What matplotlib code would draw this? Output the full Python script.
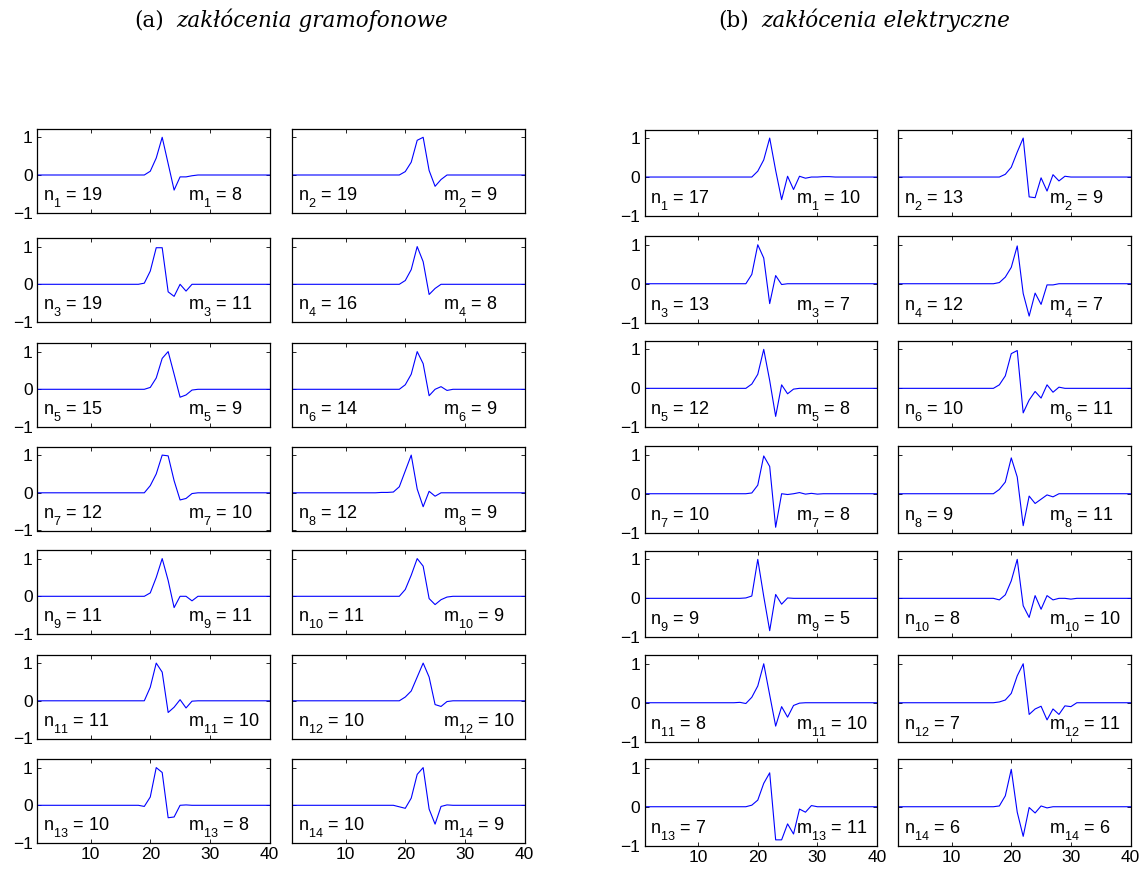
import numpy as np
import matplotlib
matplotlib.use("Agg")
import matplotlib.pyplot as plt
import matplotlib._mathtext as mt

plt.rcParams['font.family'] = ['Liberation Sans', 'DejaVu Sans']
plt.rcParams['mathtext.fontset'] = 'custom'
plt.rcParams['mathtext.rm'] = 'Liberation Sans'
plt.rcParams['mathtext.it'] = 'Liberation Sans:italic'
# MATLAB puts subscripts lower than mathtext does
mt.FontConstantsBase.sub1 = 0.75
mt.FontConstantsBase.sub2 = 0.9

# sample axis
x = np.arange(1, 41)

# (a) gramophone clicks: pulse start index and pulse values (rest of signal is 0)
gram_start = [19, 19, 18, 19, 19, 19, 19, 16, 19, 19, 19, 19, 18, 18]
gram_pulse = [
    [0, 0.1, 0.45, 1.0, 0.3, -0.4, -0.05, -0.05, -0.02, 0],
    [0, 0.09, 0.34, 0.92, 1.0, 0.12, -0.3, -0.12, 0],
    [0, 0.03, 0.35, 0.97, 0.97, -0.2, -0.32, 0, -0.18, 0],
    [0, 0.1, 0.39, 1.0, 0.6, -0.27, -0.11, 0],
    [0, 0.05, 0.3, 0.82, 1.0, 0.4, -0.21, -0.15, -0.02, 0],
    [0, 0.12, 0.4, 1.0, 0.68, -0.17, 0.0, 0.07, -0.03, 0],
    [0, 0.19, 0.5, 1.0, 0.98, 0.32, -0.19, -0.15, -0.02, 0],
    [0.01, 0.01, 0.02, 0.16, 0.58, 1.0, 0.1, -0.37, 0.04, -0.09, 0],
    [0, 0.09, 0.5, 1.0, 0.42, -0.3, 0, 0, -0.12, 0],
    [0, 0.18, 0.56, 1.0, 0.8, -0.06, -0.22, -0.09, -0.02, 0],
    [0, 0.36, 1.0, 0.76, -0.31, -0.17, 0.03, -0.19, -0.01, 0],
    [0, 0.1, 0.26, 0.63, 1.0, 0.63, -0.1, -0.15, -0.02, 0],
    [0, -0.03, 0.22, 1.0, 0.87, -0.33, -0.31, 0, 0.01, 0],
    [0, -0.04, -0.08, 0.19, 0.82, 1.0, -0.1, -0.5, -0.03, 0.01, 0],
]
gram_n = [19, 19, 19, 16, 15, 14, 12, 12, 11, 11, 11, 10, 10, 10]
gram_m = [8, 9, 11, 8, 9, 9, 10, 9, 11, 9, 10, 10, 8, 9]

# (b) electrical clicks
elek_start = [19, 18, 18, 17, 18, 17, 18, 17, 17, 17, 17, 17, 18, 17]
elek_pulse = [
    [0, 0.15, 0.44, 1.0, 0.17, -0.58, 0.02, -0.32, 0.02, -0.03, 0, 0, 0.01, 0.01, 0],
    [0, 0.07, 0.25, 0.64, 1.0, -0.51, -0.53, -0.02, -0.36, 0.06, -0.1, 0.02, 0],
    [0, 0.24, 1.0, 0.66, -0.51, 0.21, -0.02, 0],
    [0, 0.03, 0.17, 0.42, 0.97, -0.25, -0.83, -0.24, -0.53, -0.03, -0.03, 0],
    [0, 0.11, 0.36, 1.0, 0.2, -0.72, 0.09, -0.14, -0.02, 0],
    [0, 0.09, 0.32, 0.89, 0.97, -0.63, -0.3, -0.08, -0.25, 0.09, -0.1, 0.03, 0],
    [0, 0.02, 0.22, 0.97, 0.7, -0.86, 0, -0.02, 0, 0.03, -0.01, 0.01, -0.01, 0],
    [0, 0.11, 0.3, 0.92, 0.43, -0.82, -0.06, -0.25, -0.14, -0.03, -0.08, 0],
    [0, 0.01, 0.06, 1.0, 0.05, -0.83, 0.1, -0.15, 0.01, 0],
    [0, -0.04, 0.09, 0.45, 1.0, -0.19, -0.49, 0.07, -0.28, 0.07, -0.04, 0, 0, -0.02, 0],
    [0.01, -0.02, 0.14, 0.43, 1.0, 0.2, -0.6, -0.1, -0.37, -0.07, -0.01, 0],
    [0, 0.02, 0.07, 0.24, 0.69, 1.0, -0.3, -0.16, -0.09, -0.44, -0.16, -0.3, -0.08, -0.1, 0],
    [0, 0.04, 0.17, 0.6, 0.87, -0.85, -0.85, -0.44, -0.7, -0.06, -0.14, 0.03, 0],
    [0, 0.02, 0.28, 0.96, -0.14, -0.76, -0.02, -0.16, 0.02, -0.03, 0],
]
elek_n = [17, 13, 13, 12, 12, 10, 10, 9, 9, 8, 8, 7, 7, 6]
elek_m = [10, 9, 7, 7, 8, 11, 8, 11, 5, 10, 10, 11, 11, 6]

W, H = 1147, 873
fig = plt.figure(figsize=(W / 100, H / 100), dpi=100)


def make_signal(start, pulse):
    y = np.zeros(len(x))
    y[start - 1:start - 1 + len(pulse)] = pulse
    return y


def draw_group(col_left, bottoms, height, starts, pulses, ns, ms):
    width = 232.5
    for i in range(14):
        r, c = i // 2, i % 2
        ax = fig.add_axes([col_left[c] / W, 1 - bottoms[r] / H, width / W, height / H])
        ax.plot(x, make_signal(starts[i], pulses[i]), color='#0000ff', lw=0.8)
        ax.set_xlim(1, 40)
        ax.set_ylim(-1, 1.22)
        ax.set_xticks([10, 20, 30, 40])
        ax.set_yticks([-1, 0, 1])
        ax.tick_params(direction='in', length=3, width=0.6, top=True, right=True,
                       labelsize=12.5, pad=3)
        for s in ax.spines.values():
            s.set_linewidth(0.9)
        if c == 1:
            ax.set_yticklabels([])
        if r < 6:
            ax.set_xticklabels([])
        ax.text(2, -0.68, r'$\mathrm{n_{%d}}$ = %d' % (i + 1, ns[i]), fontsize=13)
        ax.text(26.4, -0.68, r'$\mathrm{m_{%d}}$ = %d' % (i + 1, ms[i]), fontsize=13)


draw_group([37, 292], [212.7, 322, 427, 530.5, 634, 738.5, 843], 83.7,
           gram_start, gram_pulse, gram_n, gram_m)
draw_group([644.5, 898], [216, 322.7, 427.3, 532.7, 637.3, 741.7, 845.7], 86.5,
           elek_start, elek_pulse, elek_n, elek_m)

# group titles
ty = 1 - 27 / H
fig.text(164 / W, ty, '(a)', ha='right', va='baseline', fontsize=15.5, family='DejaVu Serif')
fig.text(176 / W, ty, 'zakłócenia gramofonowe', ha='left', va='baseline', fontsize=15.5,
         family='DejaVu Serif', style='italic')
fig.text(749 / W, ty, '(b)', ha='right', va='baseline', fontsize=15.5, family='DejaVu Serif')
fig.text(761 / W, ty, 'zakłócenia elektryczne', ha='left', va='baseline', fontsize=15.5,
         family='DejaVu Serif', style='italic')

fig.savefig('out.png', dpi=100)
